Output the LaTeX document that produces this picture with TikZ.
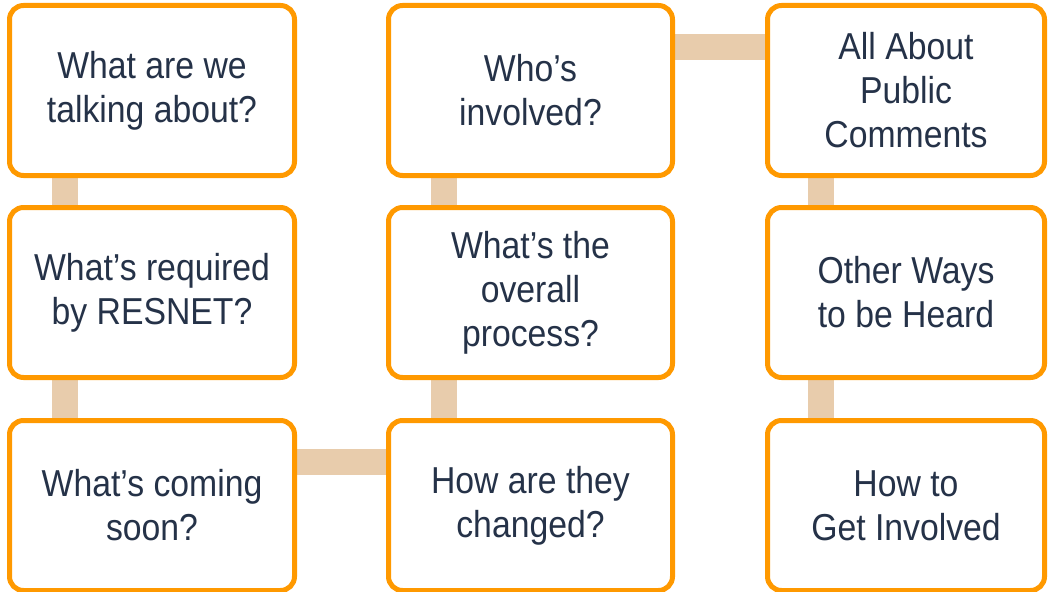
\documentclass[tikz,border=0pt]{standalone}
\usepackage{fontspec}
\setmainfont{Liberation Sans}[FakeStretch=0.9]
\usetikzlibrary{calc,backgrounds}
\definecolor{torange}{HTML}{FF9900}
\definecolor{ttan}{HTML}{E8CCAC}
\definecolor{tnavy}{HTML}{253248}

\begin{document}
\begin{tikzpicture}[x=1pt, y=-1pt,
  topic/.style={draw=torange, line width=5pt, fill=white, rounded corners=14pt,
    minimum width=285pt, minimum height=170pt, inner sep=0pt, align=center,
    text=tnavy, font=\fontsize{37.5}{44}\selectfont},
  link/.style={ttan, line width=26pt}]
\useasboundingbox (0,0) rectangle (1048,591);
% first column
\node[topic] (talk) at (152,90.5)  {What are we\\talking about?};
\node[topic] (req)  at (152,292.5) {What’s required\\by RESNET?};
\node[topic] (soon) at (152,505.5) {What’s coming\\soon?};
% second column, read bottom up
\node[topic, minimum width=284pt] (change)  at (530.5,505.5) {How are they\\changed?};
\node[topic, minimum width=284pt] (process) at (530.5,292.5) {What’s the\\overall\\process?};
\node[topic, minimum width=284pt] (who)     at (530.5,90.5)  {Who’s\\involved?};
% third column
\node[topic, minimum width=277pt] (comments) at (906,90.5)  {All About\\Public\\Comments};
\node[topic, minimum width=277pt] (other)    at (906,292.5) {Other Ways\\to be Heard};
\node[topic, minimum width=277pt] (getinv)   at (906,505.5) {How to\\Get Involved};
% tan bars behind the boxes
\begin{scope}[on background layer]
  \foreach \a/\b in {talk/req, req/soon, who/process, process/change, comments/other, other/getinv} {
    \coordinate (tmp) at ($(\a.south west)!.2!(\a.south east)$);
    \draw[link] (tmp) -- (tmp |- \b.north);
  }
  \foreach \a/\b in {soon/change, who/comments} {
    \coordinate (tmp) at ($(\a.north east)!.25!(\a.south east)$);
    \draw[link] (tmp) -- (tmp -| \b.west);
  }
\end{scope}
\end{tikzpicture}
\end{document}
